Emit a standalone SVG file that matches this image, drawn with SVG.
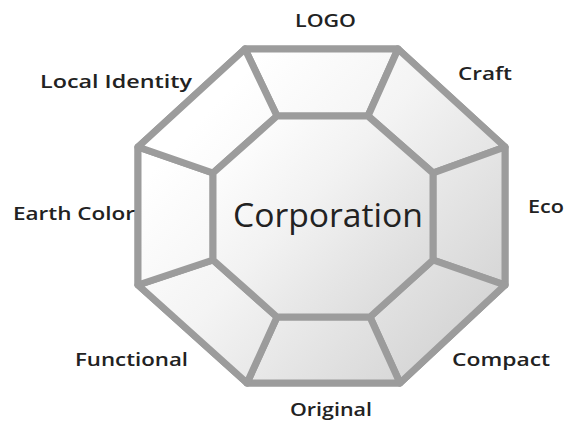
<svg xmlns="http://www.w3.org/2000/svg" width="565" height="426" viewBox="0 0 565 426">
<defs>
<linearGradient id="g" gradientUnits="userSpaceOnUse" x1="200" y1="120" x2="480" y2="380">
<stop offset="0" stop-color="#ffffff"/>
<stop offset="0.35" stop-color="#f4f4f4"/>
<stop offset="1" stop-color="#cfcfcf"/>
</linearGradient>
<linearGradient id="gc" gradientUnits="userSpaceOnUse" x1="230" y1="130" x2="420" y2="310">
<stop offset="0" stop-color="#ffffff"/>
<stop offset="0.4" stop-color="#f2f2f2"/>
<stop offset="1" stop-color="#d8d8d8"/>
</linearGradient>
</defs>
<style>
.seg{stroke:#9c9c9c;stroke-width:7;stroke-linejoin:round;fill:url(#g)}
.lbl{font-family:"Open Sans","DejaVu Sans",sans-serif;font-size:18px;font-weight:600;fill:#222}
.center{font-family:"Open Sans","DejaVu Sans",sans-serif;font-size:33px;fill:#222}
</style>
<rect width="565" height="426" fill="#fff"/>
<g id="outer">
<polygon class="seg" points="245,49 398,49 505,147 505,285 400,383 247,383 138,285 138,147"/>
</g>
<g id="connectors">
<g id="seg-logo"><polygon class="seg" points="245,49 398,49 368,116 277,116"/></g>
<g id="seg-craft"><polygon class="seg" points="398,49 505,147 433,173 368,116"/></g>
<g id="seg-eco"><polygon class="seg" points="505,147 505,285 433,260 433,173"/></g>
<g id="seg-compact"><polygon class="seg" points="505,285 400,383 370,317 433,260"/></g>
<g id="seg-original"><polygon class="seg" points="400,383 247,383 277,317 370,317"/></g>
<g id="seg-functional"><polygon class="seg" points="247,383 138,285 213,260 277,317"/></g>
<g id="seg-earth"><polygon class="seg" points="138,285 138,147 213,173 213,260"/></g>
<g id="seg-local"><polygon class="seg" points="138,147 245,49 277,116 213,173"/></g>
</g>
<g id="center">
<polygon class="seg" style="fill:url(#gc)" points="277,116 368,116 433,173 433,260 370,317 277,317 213,260 213,173"/>
<text class="center" x="233" y="227" textLength="190" lengthAdjust="spacingAndGlyphs">Corporation</text>
</g>
<g id="labels">
<text class="lbl" x="295" y="27" textLength="61" lengthAdjust="spacingAndGlyphs">LOGO</text>
<text class="lbl" x="458" y="80" textLength="54" lengthAdjust="spacingAndGlyphs">Craft</text>
<text class="lbl" x="40" y="88" textLength="152" lengthAdjust="spacingAndGlyphs">Local Identity</text>
<text class="lbl" x="13" y="220" textLength="122" lengthAdjust="spacingAndGlyphs">Earth Color</text>
<text class="lbl" x="528" y="213" textLength="36" lengthAdjust="spacingAndGlyphs">Eco</text>
<text class="lbl" x="75" y="366" textLength="113" lengthAdjust="spacingAndGlyphs">Functional</text>
<text class="lbl" x="452" y="366" textLength="98" lengthAdjust="spacingAndGlyphs">Compact</text>
<text class="lbl" x="290" y="416" textLength="82" lengthAdjust="spacingAndGlyphs">Original</text>
</g>
</svg>
